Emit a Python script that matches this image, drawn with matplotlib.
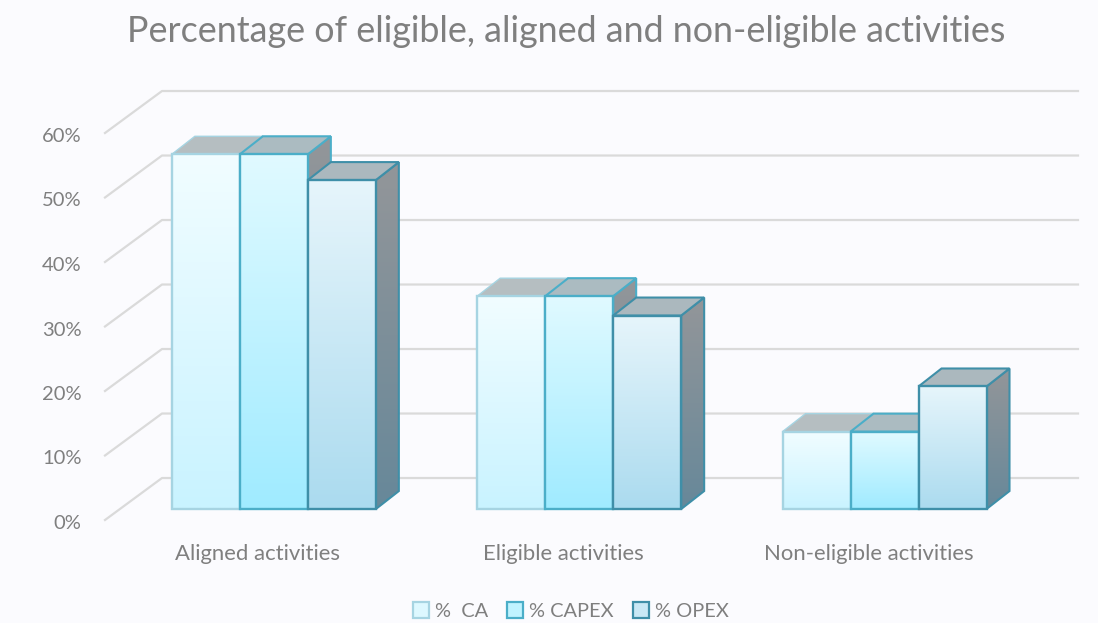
import numpy as np
import matplotlib.pyplot as plt
from matplotlib.colors import to_rgb
from matplotlib.patches import Patch, Polygon
from matplotlib.transforms import ScaledTranslation

categories = ['Aligned activities', 'Eligible activities', 'Non-eligible activities']
series_names = ['%  CA', '% CAPEX', '% OPEX']
ca_values = [55, 33, 12]
capex_values = [55, 33, 12]
opex_values = [51, 30, 19]
y_ticks = [0, 10, 20, 30, 40, 50, 60]
y_tick_labels = ['0%', '10%', '20%', '30%', '40%', '50%', '60%']

W, H = 1098, 623
BG = '#FBFBFE'
TEXT = '#7F7F7F'
plt.rcParams['font.family'] = ['Lato', 'DejaVu Sans']

# 3d look: offsets in axis units (x = categories, y = percent)
wall_dx, wall_dy = 0.1867, 6.51
bar_x0, bar_y0 = 0.053, 1.7
bar_dx, bar_dy = 0.0753, 2.79
bar_w = 0.2227

styles = [
    {'top': '#F1FDFF', 'bot': '#C9F3FF', 'edge': '#A6D4E2', 'cap': '#B5BEC1'},
    {'top': '#E0FAFF', 'bot': '#A0EBFF', 'edge': '#4BAEC8', 'cap': '#ABBBC1'},
    {'top': '#E6F5FB', 'bot': '#ABDBEF', 'edge': '#3F8FA8', 'cap': '#ABB8BE'},
]
side_top, side_bot = '#939699', '#67889A'


def gradient(ax, c1, c2, x0, x1, y0, y1, clip=None, z=3):
    steps = np.linspace(0, 1, 64)[:, None, None]
    img = (1 - steps) * np.array(to_rgb(c1)) + steps * np.array(to_rgb(c2))
    im = ax.imshow(img, extent=(x0, x1, y0, y1), origin='upper', aspect='auto',
                   interpolation='bilinear', zorder=z)
    if clip is not None:
        im.set_clip_path(clip)
    return im


fig = plt.figure(figsize=(W / 100, H / 100), dpi=100, facecolor=BG)
ax = fig.add_axes([105 / W, (H - 520) / H, 916 / W, 387 / H], facecolor='none')

# back wall grid with the slanted part on the left
for v in y_ticks:
    ax.plot([0, wall_dx, 3 + wall_dx], [v, v + wall_dy, v + wall_dy],
            color='#DADADA', lw=1.6, clip_on=False, zorder=1)

z = 2
for i in range(len(categories)):
    for j, vals in enumerate([ca_values, capex_values, opex_values]):
        st = styles[j]
        x0 = i + 0.5 - 1.5 * bar_w + j * bar_w + bar_x0
        x1 = x0 + bar_w
        y0 = bar_y0
        y1 = vals[i] + bar_y0

        # right side
        side = [(x1, y0), (x1 + bar_dx, y0 + bar_dy), (x1 + bar_dx, y1 + bar_dy), (x1, y1)]
        p = Polygon(side, closed=True, facecolor='none', edgecolor=st['edge'], lw=1.5, zorder=z + 0.2)
        ax.add_patch(p)
        gradient(ax, side_top, side_bot, x1, x1 + bar_dx, y0, y1 + bar_dy, clip=p, z=z + 0.1)

        # top
        cap = [(x0, y1), (x1, y1), (x1 + bar_dx, y1 + bar_dy), (x0 + bar_dx, y1 + bar_dy)]
        ax.add_patch(Polygon(cap, closed=True, facecolor=st['cap'], edgecolor=st['edge'],
                             lw=1.0 if j == 0 else 1.5, zorder=z + 0.2))

        # front
        gradient(ax, st['top'], st['bot'], x0, x1, y0, y1, z=z + 0.3)
        ax.bar(x0, vals[i], width=bar_w, bottom=bar_y0, align='edge', facecolor='none',
               edgecolor=st['edge'], lw=1.7, zorder=z + 0.4)
        z += 1

ax.set_xlim(0, 3)
ax.set_ylim(0, 60)
ax.set_xticks([0.5, 1.5, 2.5], categories)
ax.set_yticks(y_ticks, y_tick_labels)
ax.tick_params(axis='x', length=0, pad=17, labelsize=15.9, labelcolor=TEXT)
ax.tick_params(axis='y', length=0, pad=17, labelsize=14.5, labelcolor=TEXT)
shift = ScaledTranslation(0, -2 / 100, fig.dpi_scale_trans)
for lab in ax.get_yticklabels():
    lab.set_transform(lab.get_transform() + shift)
for s in ax.spines.values():
    s.set_visible(False)

fig.text(566 / W, 1 - 31 / H, 'Percentage of eligible, aligned and non-eligible activities',
         ha='center', va='center', fontsize=25.8, color=TEXT)

handles = []
for st in styles:
    mid = (np.array(to_rgb(st['top'])) + np.array(to_rgb(st['bot']))) / 2
    handles.append(Patch(facecolor=mid, edgecolor=st['edge'], lw=1.6))
fig.legend(handles, series_names, loc='center', bbox_to_anchor=(571 / W, 1 - 611 / H), ncol=3,
           frameon=False, fontsize=14.4, labelcolor=TEXT, handlelength=0.8, handleheight=0.8,
           handletextpad=0.3, columnspacing=0.95, borderpad=0)

fig.savefig('out.png', dpi=100, facecolor=BG)
